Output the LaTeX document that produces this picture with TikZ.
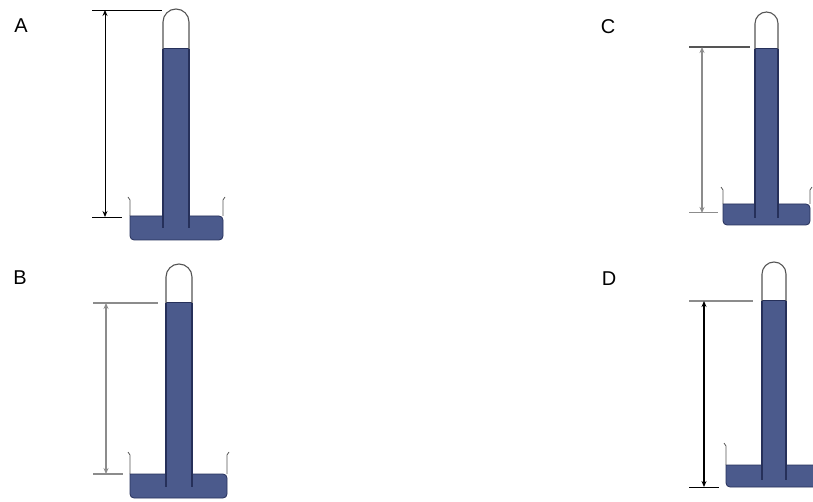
\documentclass[tikz,border=0pt]{standalone}
\usepackage{fontspec}
\setmainfont{Liberation Sans}
\usetikzlibrary{arrows.meta}
\definecolor{hg}{HTML}{4B5A8C}
\definecolor{hgdark}{HTML}{26305A}
\definecolor{glass}{HTML}{555555}
\definecolor{refgray}{HTML}{8C8C8C}
\tikzset{
  lbl/.style={font=\fontsize{20}{20}\selectfont, inner sep=0pt},
  hgfill/.style={fill=hg, draw=hgdark, line width=0.8pt},
  glassline/.style={draw=glass, line width=1.1pt},
  tubewall/.style={draw=hgdark, line width=1.6pt},
  dimarrow/.style={{Stealth[length=6pt,width=5pt]}-{Stealth[length=6pt,width=5pt]}, line width=0.9pt},
}
% #1 tube left, #2 tube right, #3 dome top, #4 mercury top, #5 tube bottom,
% #6 dish left, #7 dish right, #8 wall top, #9 surface, #10 dish bottom
\newcommand{\barom}[9]{%
  \def\tL{#1}\def\tR{#2}\def\dT{#3}\def\mT{#4}\def\tB{#5}%
  \def\dL{#6}\def\dR{#7}\def\wT{#8}\def\sF{#9}\baromcont}
\newcommand{\baromcont}[1]{%
  \pgfmathsetmacro{\rr}{(\tR-\tL)/2}%
  % dish liquid
  \path[hgfill, rounded corners=4pt] (\dL,\sF) -- (\dL,#1) -- (\dR,#1) -- (\dR,\sF) [sharp corners] -- cycle;
  % dish walls
  \draw[glassline, line width=0.8pt] (\dL,\sF) -- (\dL,\wT+3) -- (\dL-2,\wT);
  \draw[glassline, line width=0.8pt] (\dR,\sF) -- (\dR,\wT+3) -- (\dR+2,\wT);
  % mercury column
  \fill[hg] (\tL,\mT) rectangle (\tR,\tB);
  \draw[hgdark, line width=1pt] (\tL,\mT) -- (\tR,\mT);
  % glass part of tube
  \draw[glassline] (\tL,\mT) -- (\tL,\dT+\rr) arc[start angle=180, end angle=360, radius=\rr] -- (\tR,\mT);
  % tube walls in mercury
  \draw[tubewall] (\tL,\mT) -- (\tL,\tB);
  \draw[tubewall] (\tR,\mT) -- (\tR,\tB);
}
\begin{document}
\begin{tikzpicture}[x=1pt,y=-1pt]
\useasboundingbox (0,0) rectangle (813,502);
\begin{scope}
\clip (0,0) rectangle (813,502);
% labels
\node[lbl] (lA) at (21,26) {A};
\node[lbl] (lB) at (20,278) {B};
\node[lbl] (lC) at (608,27) {C};
\node[lbl] (lD) at (609,279) {D};

% ---- A ----
\barom{163}{189}{9}{49}{228}{130}{223}{197}{216}{240}
\coordinate (Atop) at (105,10);
\coordinate (Abot) at (105,217);
\draw[line width=0.9pt] (92,10) -- (162,10);
\draw[line width=0.9pt] (92,217) -- (122,217);
\draw[dimarrow] (Atop) -- (Abot);

% ---- B ----
\barom{166}{192}{264}{303}{487}{130}{227}{452}{474}{498}
\coordinate (Btop) at (106,303);
\coordinate (Bbot) at (106,474);
\draw[refgray, line width=1.4pt] (93,303) -- (158,303);
\draw[refgray, line width=1.4pt] (93,474) -- (123,474);
\draw[dimarrow, refgray, line width=1.3pt] (Btop) -- (Bbot);

% ---- C ----
\barom{755}{778}{12}{49}{218}{723}{810}{187}{204}{225}
\coordinate (Ctop) at (702,47);
\coordinate (Cbot) at (702,213);
\draw[glass, line width=1.3pt] (689,47) -- (750,47);
\draw[refgray, line width=1pt] (689,213) -- (718,213);
\draw[dimarrow, refgray, line width=1.3pt] (Ctop) -- (Cbot);

% ---- D ----
\barom{762}{786}{262}{301}{480}{726}{840}{443}{465}{487}
\coordinate (Dtop) at (704,301);
\coordinate (Dbot) at (704,487);
\draw[refgray, line width=1.6pt] (689,301) -- (753,301);
\draw[line width=1pt] (689,487) -- (719,487);
\draw[dimarrow, line width=1.4pt] (Dtop) -- (Dbot);
\end{scope}
\end{tikzpicture}
\end{document}
